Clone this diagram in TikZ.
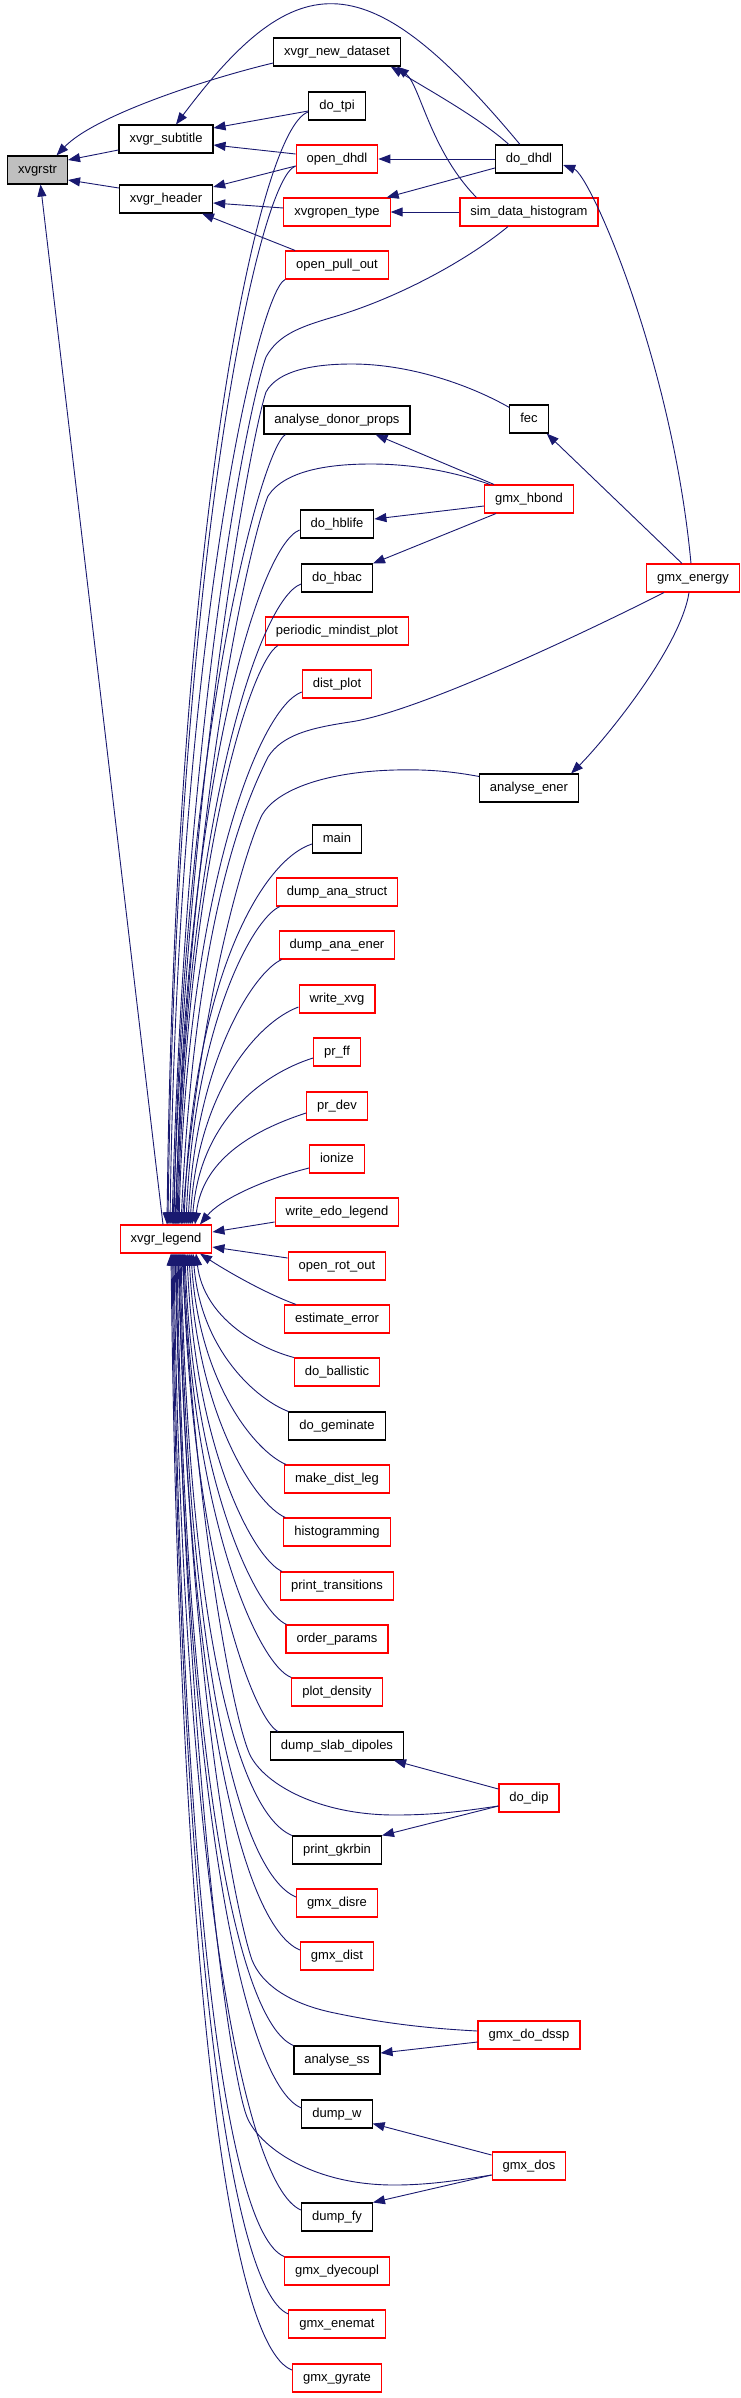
\documentclass[tikz,border=0pt]{standalone}
\usepackage{fontspec}
\setmainfont{Liberation Sans}
\usepackage{xcolor}
\usepackage{tikz}
\usetikzlibrary{arrows.meta}
\definecolor{edgeblue}{HTML}{191970}
\definecolor{boxred}{HTML}{FF0000}
\definecolor{rootgray}{HTML}{BFBFBF}

\begin{document}
\begin{tikzpicture}[x=1pt, y=-1pt, >={Triangle[length=12pt,width=9pt]},
  every node/.style={draw, fill=white, line width=1.1pt, font=\fontsize{13pt}{15pt}\selectfont, minimum height=28pt, inner xsep=10.5pt, inner ysep=0pt, text height=9.5pt, text depth=2.8pt},
  redbox/.style={draw=boxred},
  rootbox/.style={fill=rootgray},
  call/.style={<-, color=edgeblue, line width=0.9pt}]
\fill[white] (0,0) rectangle (741,2398);
\useasboundingbox (0,0) rectangle (741,2398);
\node[rootbox] (xvgrstr) at (37.5,170) {xvgrstr};
\node (subtitle) at (166,139) {xvgr\_subtitle};
\node (header) at (166,199) {xvgr\_header};
\node[redbox] (leg) at (166,1239) {xvgr\_legend};
\node (newds) at (337,52) {xvgr\_new\_dataset};
\node (dotpi) at (337,106) {do\_tpi};
\node[redbox] (opendhdl) at (337,159) {open\_dhdl};
\node[redbox] (xvopen) at (337,212) {xvgropen\_type};
\node[redbox] (pullout) at (337,265) {open\_pull\_out};
\node (donor) at (337,420) {analyse\_donor\_props};
\node (hblife) at (337,524) {do\_hblife};
\node (hbac) at (337,578) {do\_hbac};
\node[redbox] (mindist) at (337,631) {periodic\_mindist\_plot};
\node[redbox] (distplot) at (337,684) {dist\_plot};
\node (main) at (337,839) {main};
\node[redbox] (anastruct) at (337,892) {dump\_ana\_struct};
\node[redbox] (anaener) at (337,945) {dump\_ana\_ener};
\node[redbox] (wxvg) at (337,999) {write\_xvg};
\node[redbox] (prff) at (337,1052) {pr\_ff};
\node[redbox] (prdev) at (337,1106) {pr\_dev};
\node[redbox] (ionize) at (337,1159) {ionize};
\node[redbox] (edoleg) at (337,1212) {write\_edo\_legend};
\node[redbox] (rotout) at (337,1266) {open\_rot\_out};
\node[redbox] (esterr) at (337,1319) {estimate\_error};
\node[redbox] (ballistic) at (337,1372) {do\_ballistic};
\node (geminate) at (337,1426) {do\_geminate};
\node[redbox] (distleg) at (337,1479) {make\_dist\_leg};
\node[redbox] (histo) at (337,1532) {histogramming};
\node[redbox] (trans) at (337,1586) {print\_transitions};
\node[redbox] (order) at (337,1639) {order\_params};
\node[redbox] (density) at (337,1692) {plot\_density};
\node (slab) at (337,1746) {dump\_slab\_dipoles};
\node (gkrbin) at (337,1850) {print\_gkrbin};
\node[redbox] (disre) at (337,1903) {gmx\_disre};
\node[redbox] (gdist) at (337,1956) {gmx\_dist};
\node (anass) at (337,2060) {analyse\_ss};
\node (dumpw) at (337,2114) {dump\_w};
\node (dumpfy) at (337,2217) {dump\_fy};
\node[redbox] (dyecoupl) at (337,2271) {gmx\_dyecoupl};
\node[redbox] (enemat) at (337,2324) {gmx\_enemat};
\node[redbox] (gyrate) at (337,2378) {gmx\_gyrate};
\node (dodhdl) at (529,159) {do\_dhdl};
\node[redbox] (simhist) at (529,212) {sim\_data\_histogram};
\node (fec) at (529,419) {fec};
\node[redbox] (hbond) at (529,499) {gmx\_hbond};
\node (anaener2) at (529,788) {analyse\_ener};
\node[redbox] (dodip) at (529,1798) {do\_dip};
\node[redbox] (dssp) at (529,2035) {gmx\_do\_dssp};
\node[redbox] (dos) at (529,2166) {gmx\_dos};
\node[redbox] (energy) at (693,578) {gmx\_energy};
\draw[call] ([yshift=10pt]xvgrstr.east) -- ([yshift=-11pt]subtitle.west);
\draw[call] ([yshift=-10pt]xvgrstr.east) -- ([yshift=11pt]header.west);
\draw[call] ([xshift=19pt]xvgrstr.north) .. controls (95,115) and (210,78) .. ([yshift=-11pt]newds.west);
\draw[call] ([xshift=3pt]xvgrstr.south) -- ([xshift=-3pt]leg.north);
\draw[call] ([yshift=11pt]subtitle.east) -- ([yshift=-5pt]dotpi.west);
\draw[call] ([yshift=-6pt]subtitle.east) -- ([yshift=5pt]opendhdl.west);
\draw[call] ([xshift=10pt]subtitle.north) .. controls (298,-38) and (368,-38) .. ([xshift=-9pt]dodhdl.north);
\draw[call] ([yshift=12pt]header.east) -- ([yshift=-7pt]opendhdl.west);
\draw[call] ([yshift=-4pt]header.east) -- ([yshift=4pt]xvopen.west);
\draw[call] ([xshift=36pt]header.south) -- ([xshift=10pt]pullout.north west);
\draw[call] ([xshift=-10pt]newds.south east) .. controls (425,88) and (480,118) .. ([xshift=14pt]dodhdl.north west);
\draw[call] ([xshift=-4pt]newds.south east) .. controls (420,85) and (430,150) .. ([xshift=17pt]simhist.north west);
\draw[call] (opendhdl.east) -- (dodhdl.west);
\draw[call] ([xshift=-4pt]xvopen.north east) -- ([yshift=-9pt]dodhdl.west);
\draw[call] (xvopen.east) -- (simhist.west);
\draw[call] ([yshift=-6pt]dodhdl.east) .. controls (590,175) and (672,360) .. ([xshift=-2pt]energy.north);
\draw[call] ([xshift=-2pt]fec.south east) -- ([xshift=-11pt]energy.north);
\draw[call] ([xshift=-8pt]anaener2.north east) .. controls (600,745) and (680,650) .. ([xshift=-4pt]energy.south);
\draw[call] ([xshift=-35pt]donor.south east) -- ([xshift=10pt]hbond.north west);
\draw[call] ([yshift=5pt]hblife.east) -- ([yshift=-7pt]hbond.west);
\draw[call] (hbac.north east) -- ([xshift=12pt]hbond.south west);
\draw[call] ([xshift=-10pt]slab.south east) -- ([yshift=9pt]dodip.west);
\draw[call] (gkrbin.north east) -- ([yshift=-8pt]dodip.west);
\draw[call] ([yshift=7pt]anass.east) -- ([yshift=-7pt]dssp.west);
\draw[call] ([yshift=5pt]dumpw.south east) -- ([yshift=11pt]dos.west);
\draw[call] (dumpfy.north east) -- ([yshift=-9pt]dos.west);
\draw[call] ([xshift=1pt]leg.north) .. controls (175,531) and (258,128) .. ([yshift=-6pt]dotpi.west);
\draw[call] ([xshift=2pt]leg.north) .. controls (176,564) and (258,178) .. ([yshift=-7pt]opendhdl.west);
\draw[call] ([xshift=4pt]leg.north) .. controls (178,630) and (259,291) .. (pullout.south west);
\draw[call] ([xshift=6pt]leg.north) .. controls (186,700) and (250,400) .. (266,357) .. controls (278,335) and (300,327) .. (330,318) .. controls (400,298) and (470,258) .. ([xshift=-21pt]simhist.south);
\draw[call] ([xshift=7pt]leg.north) .. controls (188,780) and (250,440) .. (266,392) .. controls (278,370) and (315,364) .. (352,364) .. controls (410,364) and (470,385) .. ([yshift=-3pt]fec.north west);
\draw[call] ([xshift=8pt]leg.north) .. controls (182,735) and (262,448) .. ([xshift=22pt]donor.south west);
\draw[call] ([xshift=9pt]leg.north) .. controls (190,800) and (250,540) .. (268,496) .. controls (285,470) and (330,464) .. (371,464) .. controls (420,464) and (460,474) .. ([xshift=6pt]hbond.north west);
\draw[call] ([xshift=10pt]leg.north) .. controls (184,794) and (258,546) .. ([yshift=-6pt]hblife.west);
\draw[call] ([xshift=11pt]leg.north) .. controls (185,828) and (258,600) .. ([yshift=-6pt]hbac.west);
\draw[call] ([xshift=12pt]leg.north) .. controls (186,865) and (250,662) .. ([xshift=13pt]mindist.south west);
\draw[call] ([xshift=13pt]leg.north) .. controls (187,895) and (258,708) .. ([yshift=-8pt]distplot.west);
\draw[call] ([xshift=15pt]leg.north) .. controls (196,900) and (252,790) .. (268,757) .. controls (282,735) and (310,728) .. (350,722) .. controls (420,712) and (600,625) .. ([xshift=-29pt]energy.south);
\draw[call] ([xshift=16pt]leg.north) .. controls (200,1000) and (245,850) .. (262,815) .. controls (275,792) and (320,772) .. (395,770) .. controls (430,769) and (455,772) .. ([yshift=-3pt]anaener2.north west);
\draw[call] ([xshift=18pt]leg.north) .. controls (192,989) and (258,862) .. ([yshift=-5pt]main.west);
\draw[call] ([xshift=20pt]leg.north) .. controls (194,1027) and (252,919) .. ([xshift=4pt]anastruct.south west);
\draw[call] ([xshift=22pt]leg.north) .. controls (196,1060) and (254,972) .. ([xshift=3pt]anaener.south west);
\draw[call] ([xshift=24pt]leg.north) .. controls (198,1090) and (258,1022) .. ([yshift=-8pt]wxvg.west);
\draw[call] ([xshift=26pt]leg.north) .. controls (200,1121) and (262,1074) .. ([yshift=-6pt]prff.west);
\draw[call] ([xshift=29pt]leg.north) .. controls (203,1156) and (260,1128) .. ([yshift=-7pt]prdev.west);
\draw[call] ([xshift=34pt]leg.north) .. controls (220,1200) and (262,1180) .. ([yshift=-9pt]ionize.west);
\draw[call] ([yshift=7pt]leg.east) -- ([yshift=-10pt]edoleg.west);
\draw[call] ([yshift=-8pt]leg.east) -- ([yshift=8pt]rotout.west);
\draw[call] ([xshift=34pt]leg.south) .. controls (222,1268) and (262,1292) .. ([xshift=12pt]esterr.north west);
\draw[call] ([xshift=30pt]leg.south) .. controls (204,1318) and (258,1348) .. (ballistic.north west);
\draw[call] ([xshift=27pt]leg.south) .. controls (201,1352) and (258,1400) .. (geminate.north west);
\draw[call] ([xshift=25pt]leg.south) .. controls (199,1384) and (256,1452) .. ([xshift=2pt]distleg.north west);
\draw[call] ([xshift=23pt]leg.south) .. controls (197,1417) and (256,1505) .. ([xshift=2pt]histo.north west);
\draw[call] ([xshift=21pt]leg.south) .. controls (195,1451) and (254,1559) .. ([xshift=2pt]trans.north west);
\draw[call] ([xshift=19pt]leg.south) .. controls (193,1484) and (257,1612) .. ([xshift=1pt]order.north west);
\draw[call] ([xshift=18pt]leg.south) .. controls (192,1517) and (258,1665) .. (density.north west);
\draw[call] ([xshift=17pt]leg.south) .. controls (191,1550) and (252,1718) .. ([xshift=8pt]slab.north west);
\draw[call] ([xshift=16pt]leg.south) .. controls (195,1500) and (230,1710) .. (250,1755) .. controls (265,1785) and (320,1815) .. (395,1815) .. controls (440,1815) and (470,1810) .. ([yshift=-8pt]dodip.west);
\draw[call] ([xshift=15pt]leg.south) .. controls (189,1614) and (235,1812) .. (gkrbin.north west);
\draw[call] ([xshift=14pt]leg.south) .. controls (188,1652) and (237,1872) .. ([yshift=6pt]disre.west);
\draw[call] ([xshift=13pt]leg.south) .. controls (187,1685) and (240,1925) .. ([yshift=6pt]gdist.west);
\draw[call] ([xshift=12pt]leg.south) .. controls (190,1700) and (238,1920) .. (252,1960) .. controls (262,1985) and (290,2003) .. (330,2012) .. controls (390,2025) and (440,2029) .. ([yshift=4pt]dssp.west);
\draw[call] ([xshift=11pt]leg.south) .. controls (185,1745) and (235,2021) .. (anass.north west);
\draw[call] ([xshift=10pt]leg.south) .. controls (184,1783) and (242,2083) .. ([yshift=6pt]dumpw.west);
\draw[call] ([xshift=9pt]leg.south) .. controls (188,1800) and (232,2080) .. (247,2117) .. controls (258,2145) and (310,2185) .. (394,2185) .. controls (430,2185) and (460,2180) .. ([yshift=-9pt]dos.west);
\draw[call] ([xshift=8pt]leg.south) .. controls (182,1846) and (241,2185) .. ([yshift=7pt]dumpfy.west);
\draw[call] ([xshift=7pt]leg.south) .. controls (181,1875) and (225,2232) .. (dyecoupl.north west);
\draw[call] ([xshift=6pt]leg.south) .. controls (180,1911) and (228,2289) .. ([yshift=10pt]enemat.west);
\draw[call] ([xshift=5pt]leg.south) .. controls (179,1946) and (226,2345) .. ([yshift=8pt]gyrate.west);
\end{tikzpicture}
\end{document}
